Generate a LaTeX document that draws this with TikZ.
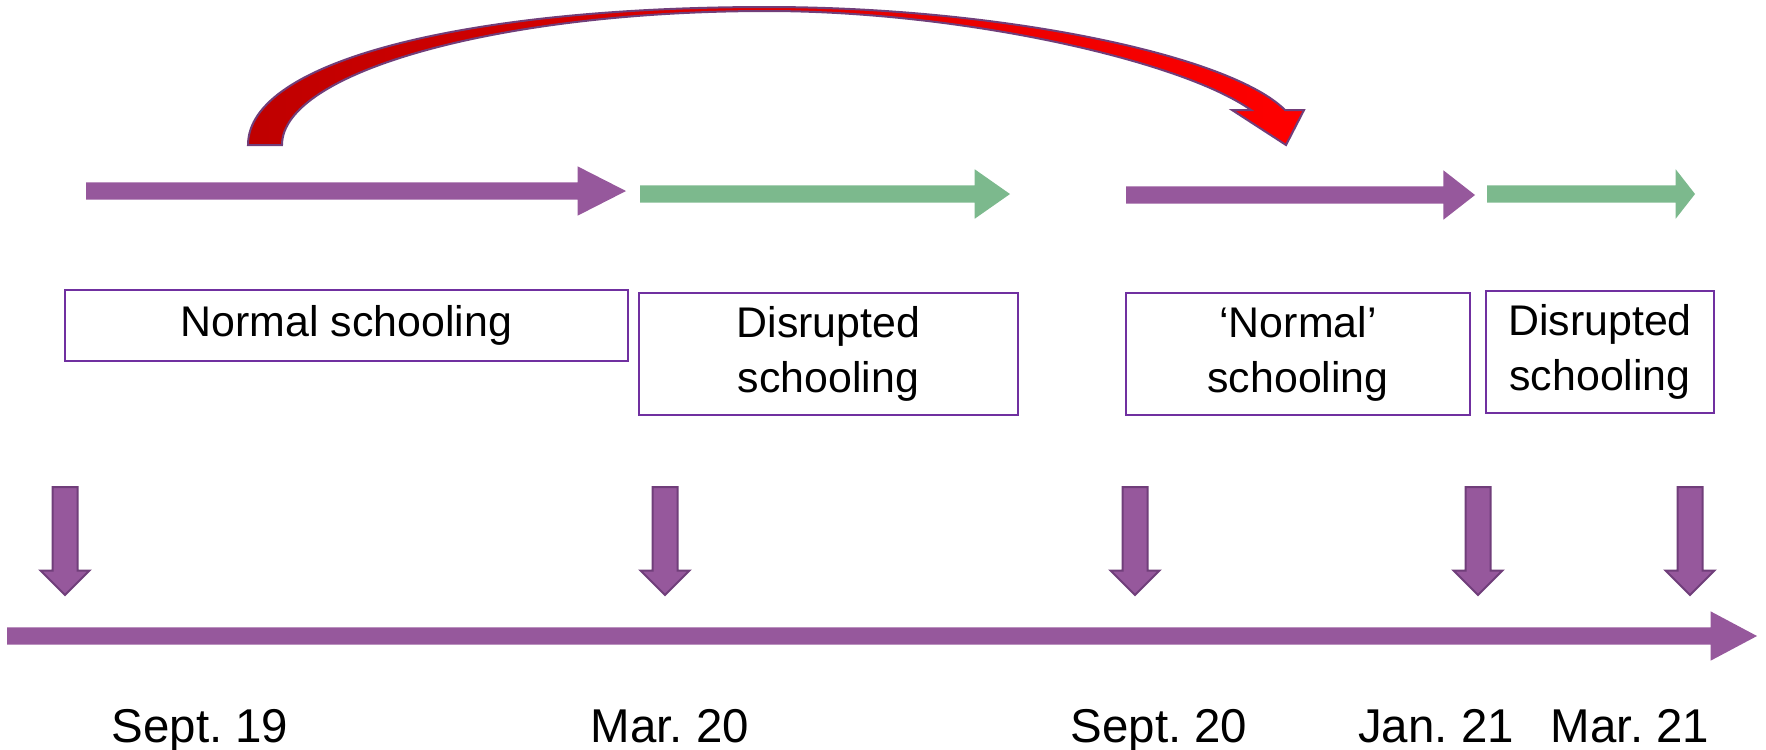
\documentclass[tikz,border=0pt]{standalone}
\usepackage{fontspec}
\setmainfont{Liberation Sans}
\usetikzlibrary{shapes.arrows}

\definecolor{tlPurple}{RGB}{150,88,156}
\definecolor{tlPurpleDark}{RGB}{112,62,122}
\definecolor{tlGreen}{RGB}{124,185,141}
\definecolor{boxPurple}{RGB}{112,48,160}

\begin{document}
\begin{tikzpicture}[x=0.1mm,y=-0.1mm,
	blk/.style={single arrow, anchor=tail, inner xsep=0pt, minimum width=0pt, outer sep=0pt},
	flat/.style={blk, inner ysep=0.8mm, single arrow head extend=1.6mm},
	down/.style={blk, draw=tlPurpleDark, line width=0.2mm, fill=tlPurple, rotate=-90,
		inner ysep=1.15mm, single arrow head extend=1.2mm, single arrow tip angle=90, minimum height=10.8mm},
	period/.style={draw=boxPurple, line width=0.15mm, align=center, inner sep=0pt,
		font=\fontsize{12.2}{15.8}\selectfont},
	date/.style={anchor=base, font=\fontsize{13.5}{16}\selectfont}]
	\useasboundingbox (0,0) rectangle (1766,749);

	% periods on top
	\node[flat, fill=tlPurple, minimum height=54mm, single arrow tip angle=54] (normalA) at (86,191) {};
	\node[flat, fill=tlGreen, minimum height=37mm, single arrow tip angle=70] (disruptA) at (640,194) {};
	\node[flat, fill=tlPurple, minimum height=34.9mm, single arrow tip angle=76] (normalB) at (1126,195) {};
	\node[flat, fill=tlGreen, minimum height=20.8mm, single arrow tip angle=104] (disruptB) at (1487,194) {};

	\node[period, minimum width=56.3mm, minimum height=7.1mm] (normal1) at (346.5,325.5) {Normal schooling};
	\node[period, minimum width=37.9mm, minimum height=12.2mm] (disrupt1) at (828.5,354) {Disrupted\\schooling};
	\node[period, minimum width=34.4mm, minimum height=12.2mm] (normal2) at (1298,354) {`Normal'\\schooling};
	\node[period, minimum width=22.8mm, minimum height=12.2mm] (disrupt2) at (1600,352) {Disrupted\\schooling};

	% the jump over the gap
	\draw[draw=tlPurpleDark, line width=0.2mm, left color=red!75!black, right color=red]
		(248,145) .. controls (248,60) and (470,7) .. (767,7)
		.. controls (1000,7) and (1230,55) .. (1285,110) -- (1304,110) -- (1286,145) -- (1232,110) -- (1251,110)
		.. controls (1180,60) and (960,11) .. (767,11)
		.. controls (500,11) and (282,72) .. (282,145) -- cycle;

	% time line
	\foreach \x/\name in {65/sep19, 665/mar20, 1135/sep20, 1478/jan21, 1690/mar21}
		\node[down] (\name) at (\x,487) {};
	\node[flat, fill=tlPurple, minimum height=175mm, single arrow tip angle=56] (timeline) at (7,636) {};

	\node[date] (sep19lbl) at (200,742) {Sept.\ 19};
	\node[date] (mar20lbl) at (670,742) {Mar.\ 20};
	\node[date] (sep20lbl) at (1159,742) {Sept.\ 20};
	\node[date] (jan21lbl) at (1436,742) {Jan.\ 21};
	\node[date] (mar21lbl) at (1630,742) {Mar.\ 21};
\end{tikzpicture}
\end{document}
